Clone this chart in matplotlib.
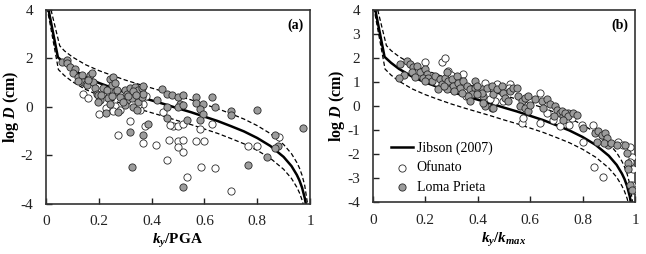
import matplotlib
matplotlib.use("Agg")
import matplotlib.pyplot as plt

plt.rcParams['font.family'] = ['Liberation Serif', 'DejaVu Serif']
plt.rcParams['mathtext.fontset'] = 'custom'
plt.rcParams['mathtext.it'] = 'Liberation Serif:italic:bold'
plt.rcParams['mathtext.rm'] = 'Liberation Serif:bold'
plt.rcParams['mathtext.bf'] = 'Liberation Serif:bold'
plt.rcParams['axes.unicode_minus'] = False

# ---- Jibson (2007) curve ----
mid_x = [0.008, 0.045, 0.07, 0.1, 0.15, 0.2, 0.25, 0.3, 0.35, 0.4, 0.45, 0.5, 0.55, 0.6,
         0.65, 0.7, 0.75, 0.8, 0.85, 0.9, 0.93, 0.95, 0.96, 0.97, 0.98, 0.985]
mid_y = [4.1, 2.05, 1.80, 1.55, 1.23, 0.99, 0.79, 0.60, 0.43, 0.27, 0.11, -0.06, -0.22, -0.40,
         -0.58, -0.79, -1.01, -1.28, -1.61, -2.06, -2.44, -2.80, -3.03, -3.33, -3.75, -4.05]
up_x = [0.019, 0.052, 0.07, 0.1, 0.15, 0.2, 0.25, 0.3, 0.35, 0.4, 0.45, 0.5, 0.55, 0.6,
        0.65, 0.7, 0.75, 0.8, 0.85, 0.9, 0.93, 0.95, 0.96, 0.97, 0.98, 0.99, 0.995]
up_y = [4.0, 2.52, 2.31, 2.06, 1.74, 1.50, 1.30, 1.11, 0.94, 0.78, 0.62, 0.45, 0.29, 0.11,
        -0.07, -0.28, -0.50, -0.77, -1.10, -1.55, -1.93, -2.29, -2.52, -2.82, -3.24, -3.95, -4.66]
lo_x = [0.004, 0.047, 0.07, 0.1, 0.15, 0.2, 0.25, 0.3, 0.35, 0.4, 0.45, 0.5, 0.55, 0.6,
        0.65, 0.7, 0.75, 0.8, 0.85, 0.9, 0.93, 0.95, 0.96, 0.97, 0.98]
lo_y = [4.1, 1.54, 1.29, 1.04, 0.72, 0.48, 0.28, 0.09, -0.08, -0.24, -0.40, -0.57, -0.73, -0.91,
        -1.09, -1.30, -1.52, -1.79, -2.12, -2.57, -2.95, -3.31, -3.54, -3.84, -4.26]

# ---- panel (a): ky/PGA ----
a_lp_x = [0.059, 0.078, 0.08, 0.091, 0.11, 0.103, 0.122, 0.135, 0.141, 0.15, 0.154, 0.167, 0.173,
          0.179, 0.186, 0.192, 0.198, 0.205, 0.217, 0.23, 0.242, 0.255, 0.249, 0.261, 0.236, 0.268,
          0.299, 0.306, 0.318, 0.337, 0.35, 0.362, 0.306, 0.325, 0.35, 0.331, 0.299, 0.343, 0.362,
          0.198, 0.242, 0.227, 0.274, 0.369, 0.369, 0.438, 0.457, 0.478, 0.501, 0.52, 0.508, 0.501,
          0.419, 0.457, 0.52, 0.568, 0.568, 0.596, 0.628, 0.64, 0.583, 0.596, 0.583, 0.533, 0.70,
          0.70, 0.388, 0.369, 0.80, 0.975, 0.867, 0.88, 0.867, 0.838, 0.766, 0.52, 0.318, 0.324,
          0.46, 0.12, 0.16, 0.21, 0.26, 0.28, 0.31, 0.33, 0.34, 0.29, 0.25]
a_lp_y = [1.86, 1.93, 1.80, 1.65, 1.58, 1.38, 1.24, 1.31, 1.03, 0.96, 0.89, 1.31, 1.38,
          1.03, 0.76, 0.55, 0.48, 0.28, 0.76, 0.69, 1.17, 1.24, 0.89, 0.62, 0.35, 0.69,
          0.69, 0.55, 0.76, 0.82, 0.69, 0.76, 0.28, 0.35, 0.21, 0.0, 0.07, -0.14, 0.41,
          0.21, 0.14, -0.25, -0.2, 0.85, 0.55, 0.72, 0.55, 0.48, 0.39, 0.48, 0.14, 0.0,
          0.28, 0.0, 0.07, 0.39, 0.17, 0.14, 0.39, 0.0, -0.07, -0.3, -0.52, -0.52, -0.16,
          -0.34, -0.69, -1.17, -0.14, -0.85, -1.14, -1.62, -1.68, -2.06, -2.4, -3.3, -1.05, -2.47,
          -0.45, 1.05, 1.1, 0.5, 1.0, 0.4, 0.45, 0.65, 0.5, 0.2, 0.45]
a_of_x = [0.141, 0.16, 0.2, 0.227, 0.26, 0.255, 0.28, 0.24, 0.3, 0.32, 0.274, 0.369, 0.356,
          0.444, 0.482, 0.501, 0.52, 0.583, 0.628, 0.375, 0.369, 0.417, 0.467, 0.501, 0.52,
          0.568, 0.6, 0.501, 0.52, 0.457, 0.586, 0.64, 0.533, 0.70, 0.766, 0.80, 0.884, 0.47,
          0.38, 0.35]
a_of_y = [0.52, 0.35, -0.3, -0.03, 0.05, -0.15, -0.14, 0.45, 0.15, -0.6, -1.15, 0.14, -0.14,
          -0.2, -0.8, -0.8, -0.71, -0.93, -0.71, -0.8, -1.48, -1.55, -1.37, -1.4, -1.37,
          -1.4, -1.4, -1.65, -1.86, -2.2, -2.47, -2.51, -2.89, -3.48, -1.62, -1.62, -1.26, -0.75,
          0.45, 0.1]

# ---- panel (b): ky/kmax ----
b_lp_x = [0.104, 0.13, 0.142, 0.155, 0.168, 0.149, 0.18, 0.2, 0.206, 0.193, 0.212, 0.225, 0.2,
          0.238, 0.257, 0.263, 0.276, 0.282, 0.288, 0.301, 0.307, 0.32, 0.326, 0.333, 0.345,
          0.358, 0.371, 0.39, 0.403, 0.415, 0.422, 0.377, 0.282, 0.39, 0.396, 0.415, 0.435,
          0.454, 0.46, 0.473, 0.492, 0.498, 0.504, 0.517, 0.523, 0.536, 0.549, 0.555, 0.568,
          0.581, 0.593, 0.562, 0.581, 0.593, 0.644, 0.663, 0.65, 0.676, 0.695, 0.701, 0.714,
          0.727, 0.746, 0.428, 0.454, 0.396, 0.72, 0.733, 0.746, 0.765, 0.778, 0.727, 0.848,
          0.86, 0.873, 0.886, 0.892, 0.898, 0.88, 0.854, 0.962, 0.968, 0.975, 0.975, 0.981,
          0.987, 0.363, 0.37, 0.42, 0.458, 0.12, 0.16, 0.1, 0.25, 0.27, 0.31, 0.34, 0.6, 0.62,
          0.69, 0.8, 0.91, 0.93]
b_lp_y = [1.75, 1.89, 1.75, 1.61, 1.68, 1.40, 1.40, 1.54, 1.33, 1.19, 1.19, 1.05, 1.05,
          1.26, 1.12, 0.91, 1.19, 1.40, 1.05, 1.12, 0.84, 1.26, 0.98, 0.77, 1.05,
          0.84, 0.70, 0.77, 0.63, 0.70, 0.42, 0.49, 0.7, 1.05, 0.84, 0.56, 0.77,
          0.84, 0.49, 0.7, 0.84, 0.56, 0.35, 0.21, 0.63, 0.77, 0.77, 0.42, 0.21,
          0.35, 0.42, 0.0, -0.07, -0.21, 0.21, 0.28, -0.07, 0.07, 0.0, -0.14, -0.28,
          -0.42, -0.28, 0.0, -0.07, 0.49, -0.21, -0.28, -0.42, -0.28, -0.35, -0.56, -1.12,
          -1.05, -1.19, -1.12, -1.33, -1.61, -1.54, -1.47, -1.61, -1.96, -2.38, -2.59, -3.29,
          -3.5, 0.42, 0.2, 0.14, -0.07, 1.3, 1.2, 1.15, 0.7, 0.85, 0.65, 0.55, 0.05, 0.3,
          -0.4, -0.9, -1.55, -1.6]
b_of_x = [0.201, 0.263, 0.276, 0.288, 0.345, 0.428, 0.473, 0.523, 0.638, 0.466, 0.498, 0.568,
          0.574, 0.638, 0.689, 0.663, 0.714, 0.797, 0.841, 0.803, 0.936, 0.955, 0.981, 0.987,
          0.981, 0.994, 0.844, 0.879, 0.987, 0.998, 0.357, 0.446, 0.2, 0.24, 0.3, 0.52, 0.6,
          0.76, 0.876, 0.3, 0.75]
b_of_y = [1.84, 1.82, 2.0, 1.47, 1.33, 0.95, 0.91, 0.91, 0.56, 0.21, 0.21, -0.7,
          -0.49, -0.7, -0.56, -0.28, -0.84, -0.77, -0.77, -1.47, -1.47, -1.61, -1.68, -2.10,
          -2.31, -2.59, -2.52, -2.94, -3.29, -3.5, 0.42, 0.28, 1.2, 1.0, 0.75, 0.75, 0.2,
          -0.5, -1.18, 1.3, -0.8]

xticks = [0, 0.2, 0.4, 0.6, 0.8, 1]
xtick_labels = ['0', '0.2', '0.4', '0.6', '0.8', '1']
a_yticks = [-4, -2, 0, 2, 4]
b_yticks = [-4, -3, -2, -1, 0, 1, 2, 3, 4]

GREY = '#9c9c9c'
EDGE = '#2a2a2a'

fig = plt.figure(figsize=(6.46, 2.54), dpi=100)
ax_a = fig.add_axes([0.0712, 0.197, 0.4087, 0.764])
ax_b = fig.add_axes([0.577, 0.203, 0.406, 0.758])


def draw(ax, lp_x, lp_y, of_x, of_y, yticks, xlabel, tag):
    l1, = ax.plot(mid_x, mid_y, color='black', lw=1.8, zorder=2, label='Jibson (2007)')
    ax.plot(up_x, up_y, color='black', lw=0.9, ls=(0, (3.5, 2)), zorder=2)
    ax.plot(lo_x, lo_y, color='black', lw=0.9, ls=(0, (3.5, 2)), zorder=2)
    s1 = ax.scatter(of_x, of_y, s=27, facecolor='white', edgecolor=EDGE, linewidth=0.6,
                    zorder=3, label='Ofunato')
    s2 = ax.scatter(lp_x, lp_y, s=27, facecolor=GREY, edgecolor=EDGE, linewidth=0.6,
                    zorder=3, label='Loma Prieta')
    ax.set_xlim(0, 1)
    ax.set_ylim(-4, 4)
    ax.set_xticks(xticks)
    ax.set_xticklabels(xtick_labels)
    ax.set_yticks(yticks)
    ax.tick_params(axis='x', direction='in', length=4, width=1, labelsize=11, pad=8,
                   top=False, colors='#222222')
    ax.tick_params(axis='y', direction='in', length=4, width=1, labelsize=11, pad=9,
                   right=False, colors='#222222')
    for sp in ax.spines.values():
        sp.set_linewidth(1.2)
        sp.set_color('#333333')
    ax.set_xlabel(xlabel, fontsize=11, fontweight='bold', labelpad=3)
    ax.set_ylabel('log $D$ (cm)', fontsize=11.5, fontweight='bold', labelpad=0)
    ax.text(0.975, 0.92, tag, transform=ax.transAxes, ha='right', va='center',
            fontsize=10, fontweight='bold')
    return l1, s1, s2


draw(ax_a, a_lp_x, a_lp_y, a_of_x, a_of_y, a_yticks, '$k_y$/PGA', '(a)')
h = draw(ax_b, b_lp_x, b_lp_y, b_of_x, b_of_y, b_yticks, '$k_y$/$k_{max}$', '(b)')

ax_b.legend(handles=list(h), loc='center left', bbox_to_anchor=(0.07, 0.181),
            frameon=False, fontsize=10, handlelength=1.6, handletextpad=0.25,
            borderaxespad=0, borderpad=0, labelspacing=0.45)

fig.savefig('out.png', dpi=100)
